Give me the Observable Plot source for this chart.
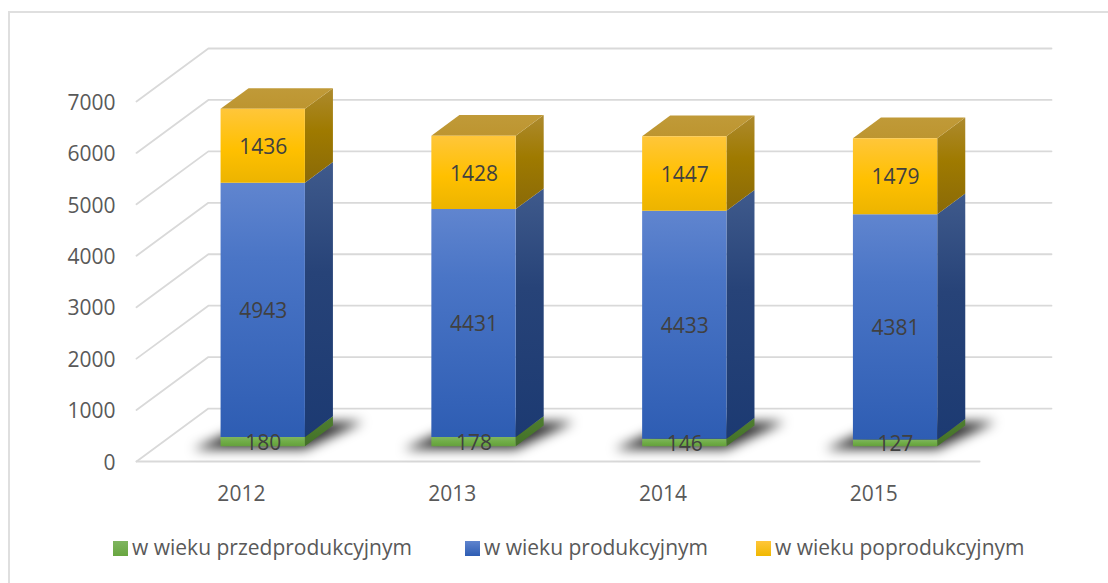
<!DOCTYPE html>
<html>
<head>
<meta charset="utf-8">
<script src="https://cdn.jsdelivr.net/npm/d3@7"></script>
<script src="https://cdn.jsdelivr.net/npm/@observablehq/plot@0.6"></script>
<style>
html,body{margin:0;padding:0;background:#fff;}
#wrap{position:relative;width:1108px;height:583px;overflow:hidden;font-family:"Open Sans",sans-serif;}
#frameTop{position:absolute;left:8px;top:11px;width:1100px;height:2px;background:#dfdfdf;}
#frameLeft{position:absolute;left:8px;top:11px;width:2px;height:572px;background:#dfdfdf;}
#chart svg{display:block;}
#legend{position:absolute;left:0;top:529px;width:1108px;height:36px;font-size:21px;color:#595959;}
.item{position:absolute;top:0;height:36px;line-height:36px;white-space:nowrap;}
.sw{position:absolute;top:12px;left:-19px;width:15px;height:15px;}
</style>
</head>
<body>
<div id="wrap">
<div id="chart"></div>
<div id="legend"></div>
<div id="frameTop"></div>
<div id="frameLeft"></div>
</div>
<script>
const years = ["2012", "2013", "2014", "2015"];
const przedprodukcyjny = [180, 178, 146, 127];
const produkcyjny = [4943, 4431, 4433, 4381];
const poprodukcyjny = [1436, 1428, 1447, 1479];
const yTicks = [0, 1000, 2000, 3000, 4000, 5000, 6000, 7000];
const seriesNames = ["w wieku przedprodukcyjnym", "w wieku produkcyjnym", "w wieku poprodukcyjnym"];

// oblique projection of the chart's 3D box: depth 0..1 shifts x and value
const depthX = 0.341, depthY = 1030;
const barWidth = 0.4, barDepth0 = 0.29, barDepth1 = 0.68;
const P = (u, v, d) => ({x: u + d * depthX, y: v + d * depthY});

const addPoly = (list, id, pts) => pts.forEach(p => list.push({...p, id}));
const fronts = {g: [], b: [], y: []}, sides = {g: [], b: [], y: []}, tops = [], shadows = [], labels = [];
years.forEach((yr, i) => {
  const l = i + 0.5 - barWidth / 2, r = i + 0.5 + barWidth / 2;
  addPoly(shadows, yr, [P(l - 0.11, 0, barDepth0 - 0.06), P(r + 0.02, 0, barDepth0 - 0.06), P(r + 0.12, 0, barDepth1 + 0.07), P(l, 0, barDepth1 + 0.07)]);
  let base = 0;
  [["g", przedprodukcyjny[i]], ["b", produkcyjny[i]], ["y", poprodukcyjny[i]]].forEach(([k, v]) => {
    const t = base + v;
    addPoly(fronts[k], yr, [P(l, base, barDepth0), P(r, base, barDepth0), P(r, t, barDepth0), P(l, t, barDepth0)]);
    addPoly(sides[k], yr, [P(r, base, barDepth0), P(r, base, barDepth1), P(r, t, barDepth1), P(r, t, barDepth0)]);
    labels.push({...P(i + 0.5, base + v / 2, barDepth0), v});
    base = t;
  });
  addPoly(tops, yr, [P(l, base, barDepth0), P(r, base, barDepth0), P(r, base, barDepth1), P(l, base, barDepth1)]);
});

const grid = [];
yTicks.forEach(t => { grid.push({...P(0, t, 0), t}, {...P(0, t, 1), t}, {...P(years.length, t, 1), t}); });
const floor = [P(0, 0, 0), P(years.length, 0, 0)];

const poly = (data, fill, extra = {}) => Plot.line(data, {x: "x", y: "y", z: "id", fill, stroke: "none", curve: "linear-closed", ...extra});

const gradients = [
  ["gFront", [[0, "#7fb55f"], [.5, "#70ad47"], [1, "#64a03c"]]],
  ["gSide", [[0, "#4f7f30"], [1, "#437028"]]],
  ["bFront", [[0, "#6085cf"], [.3, "#4a75c6"], [1, "#2e5db3"]]],
  ["bSide", [[0, "#3f5a8c"], [.4, "#274378"], [1, "#1c3a72"]]],
  ["yFront", [[0, "#ffc63a"], [.55, "#ffc000"], [1, "#ecb400"]]],
  ["ySide", [[0, "#ad8a2e"], [.45, "#9f7a00"], [1, "#8a6a08"]]],
  ["yTop", [[0, "#c09a38"], [1, "#bd9530"]]]
];

const chart = Plot.plot({
  width: 1108, height: 530,
  marginLeft: 136, marginRight: 57, marginTop: 48, marginBottom: 69,
  x: {domain: [0, years.length + depthX], axis: null},
  y: {domain: [0, 7000 + depthY], axis: null},
  style: {background: "transparent", overflow: "visible"},
  marks: [
    Plot.line(grid, {x: "x", y: "y", z: "t", stroke: "#d9d9d9", strokeWidth: 1.8}),
    Plot.line(floor, {x: "x", y: "y", stroke: "#d9d9d9", strokeWidth: 1.8}),
    poly(shadows, "#000", {fillOpacity: 0.8, imageFilter: "blur(6px)"}),
    poly(sides.g, "url(#gSide)"),
    poly(sides.b, "url(#bSide)"),
    poly(sides.y, "url(#ySide)"),
    poly(tops, "url(#yTop)"),
    poly(fronts.g, "url(#gFront)"),
    poly(fronts.b, "url(#bFront)"),
    poly(fronts.y, "url(#yFront)"),
    Plot.text(labels, {x: "x", y: "y", text: d => String(d.v), dx: 0.5, dy: 1.5, fill: "#404040", fontSize: 21, fontFamily: "Open Sans"}),
    Plot.text(yTicks, {x: () => 0, y: d => d, text: d => String(d), textAnchor: "end", dx: -21, dy: 1.5, fill: "#595959", fontSize: 21, fontFamily: "Open Sans"}),
    Plot.text(years, {x: (d, i) => i + 0.5, y: () => 0, text: d => d, dx: -0.5, dy: 33, fill: "#595959", fontSize: 21, fontFamily: "Open Sans"})
  ]
});
const defs = d3.select(chart).insert("defs", ":first-child");
gradients.forEach(([id, stops]) => {
  const g = defs.append("linearGradient").attr("id", id).attr("x1", 0).attr("y1", 0).attr("x2", 0).attr("y2", 1);
  stops.forEach(([o, c]) => g.append("stop").attr("offset", o).attr("stop-color", c));
});
document.getElementById("chart").append(chart);

const legendX = [132, 484, 775];
const swatch = ["linear-gradient(#7fb55f,#68a640)", "linear-gradient(#5f84ce,#2e5db3)", "linear-gradient(#ffc63a,#f0b800)"];
const legend = document.getElementById("legend");
seriesNames.forEach((name, i) => {
  const it = document.createElement("div");
  it.className = "item";
  it.style.left = legendX[i] + "px";
  it.textContent = name;
  const s = document.createElement("span");
  s.className = "sw";
  s.style.background = swatch[i];
  it.append(s);
  legend.append(it);
});
</script>
</body>
</html>
